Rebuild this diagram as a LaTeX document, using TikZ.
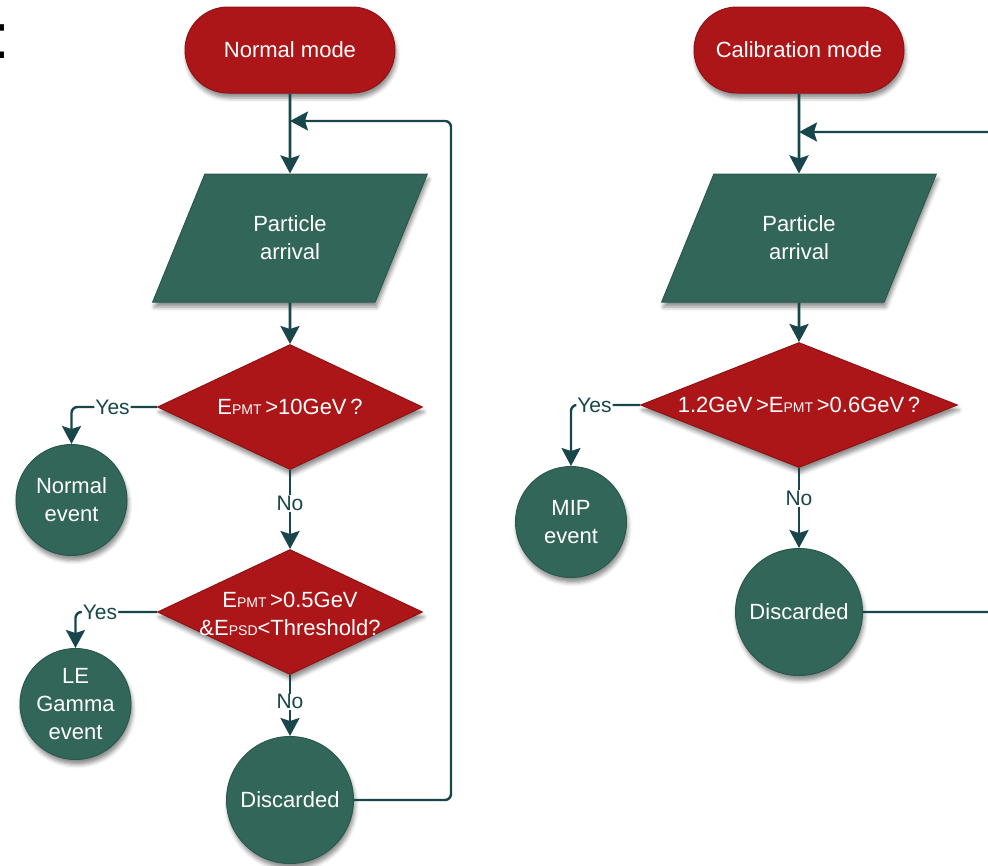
\documentclass[tikz,border=0pt]{standalone}
\usepackage{fontspec}
\setmainfont{Liberation Sans}
\usetikzlibrary{shapes.geometric,arrows.meta,shadows.blur}
\definecolor{cred}{RGB}{172,22,24}
\definecolor{credd}{RGB}{145,18,20}
\definecolor{cgrn}{RGB}{50,102,89}
\definecolor{cgrnd}{RGB}{42,88,77}
\definecolor{carr}{RGB}{24,70,74}
\newcommand{\sbs}[1]{{\fontsize{14}{14}\selectfont #1}}
\begin{document}
\begin{tikzpicture}[x=1pt,y=-1pt,
  shd/.style={blur shadow={shadow xshift=1.5pt,shadow yshift=-5pt,shadow blur radius=4pt,shadow opacity=45}},
  wtxt/.style={text=white,align=center,font=\fontsize{22}{28}\selectfont},
  term/.style={rectangle,rounded corners=43pt,minimum width=210pt,minimum height=86pt,fill=cred,draw=credd,line width=1pt,shd,wtxt},
  para/.style={trapezium,trapezium left angle=63,trapezium right angle=117,trapezium stretches=true,minimum width=275pt,minimum height=128pt,inner sep=0pt,fill=cgrn,draw=cgrnd,line width=1pt,shd,wtxt},
  dec/.style={diamond,minimum width=265pt,minimum height=125pt,inner sep=0pt,fill=cred,draw=credd,line width=1pt,shd},
  dtext/.style={wtxt,inner sep=0pt},
  circ/.style={circle,minimum size=111pt,inner sep=0pt,fill=cgrn,draw=cgrnd,line width=1pt,shd,wtxt},
  bigc/.style={minimum size=127pt},
  flow/.style={draw=carr,line width=2.8pt,-{Stealth[length=18pt,width=19pt,inset=3pt]}},
  flowthin/.style={draw=carr,line width=2.4pt,rounded corners=6pt,-{Stealth[length=18pt,width=19pt,inset=3pt]}},
  lbl/.style={fill=white,text=carr,inner sep=1pt,font=\fontsize{21}{21}\selectfont}
]
\useasboundingbox (0,0) rectangle (988,865);
\node[inner sep=0pt,font=\fontsize{64}{64}\selectfont] (colon) at (1,41.5) {:};

% ---------- left: normal mode ----------
\node[term] (nm) at (290,50) {Normal mode};
\node[para] (pa1) at (290,238) {Particle\\arrival};
\node[dec] (d1) at (290,407) {};
\node[dtext] at (d1.center) {E\sbs{PMT}\,>10GeV\,?};
\node[dec] (d2) at (290,612) {};
\node[dtext] at ([yshift=-2pt]d2.center) {E\sbs{PMT}\,>0.5GeV\\\&E\sbs{PSD}<Threshold?};
\node[circ] (ne) at (71.5,500) {Normal\\event};
\node[circ] (lg) at (75.5,704) {LE\\Gamma\\event};
\node[circ,bigc] (dis1) at (290,800) {Discarded};
\coordinate (j1) at (290,121);
\coordinate (c1) at (451,121);

\draw[flow] (nm.south) -- (pa1.north);
\draw[flow] (pa1.south) -- (d1.north);
\draw[flowthin] (d1.west) -| node[lbl,pos=0.26] {Yes} (ne.north);
\draw[flow] (d1.south) -- node[lbl,pos=0.42] {No} (d2.north);
\draw[flowthin] (d2.west) -| node[lbl,pos=0.35] {Yes} (lg.north);
\draw[flow] (d2.south) -- node[lbl,pos=0.44] {No} (dis1.north);
\draw[flowthin] (dis1.east) -| (c1) -- (j1);

% ---------- right: calibration mode ----------
\node[term] (cm) at (799,50) {Calibration mode};
\node[para] (pa2) at (799,238) {Particle\\arrival};
\node[dec,minimum width=317pt] (d3) at (799,405) {};
\node[dtext] at (d3.center) {1.2GeV\,>E\sbs{PMT}\,>0.6GeV\,?};
\node[circ] (mip) at (571,522) {MIP\\event};
\node[circ,bigc] (dis2) at (799,612) {Discarded};
\coordinate (j2) at (799,132);
\coordinate (c2) at (1000,132);

\draw[flow] (cm.south) -- (pa2.north);
\draw[flow] (pa2.south) -- (d3.north);
\draw[flowthin] (d3.west) -| node[lbl,pos=0.33] {Yes} (mip.north);
\draw[flow] (d3.south) -- node[lbl,pos=0.38] {No} (dis2.north);
\draw[flowthin] (dis2.east) -| (c2) -- (j2);
\end{tikzpicture}
\end{document}
